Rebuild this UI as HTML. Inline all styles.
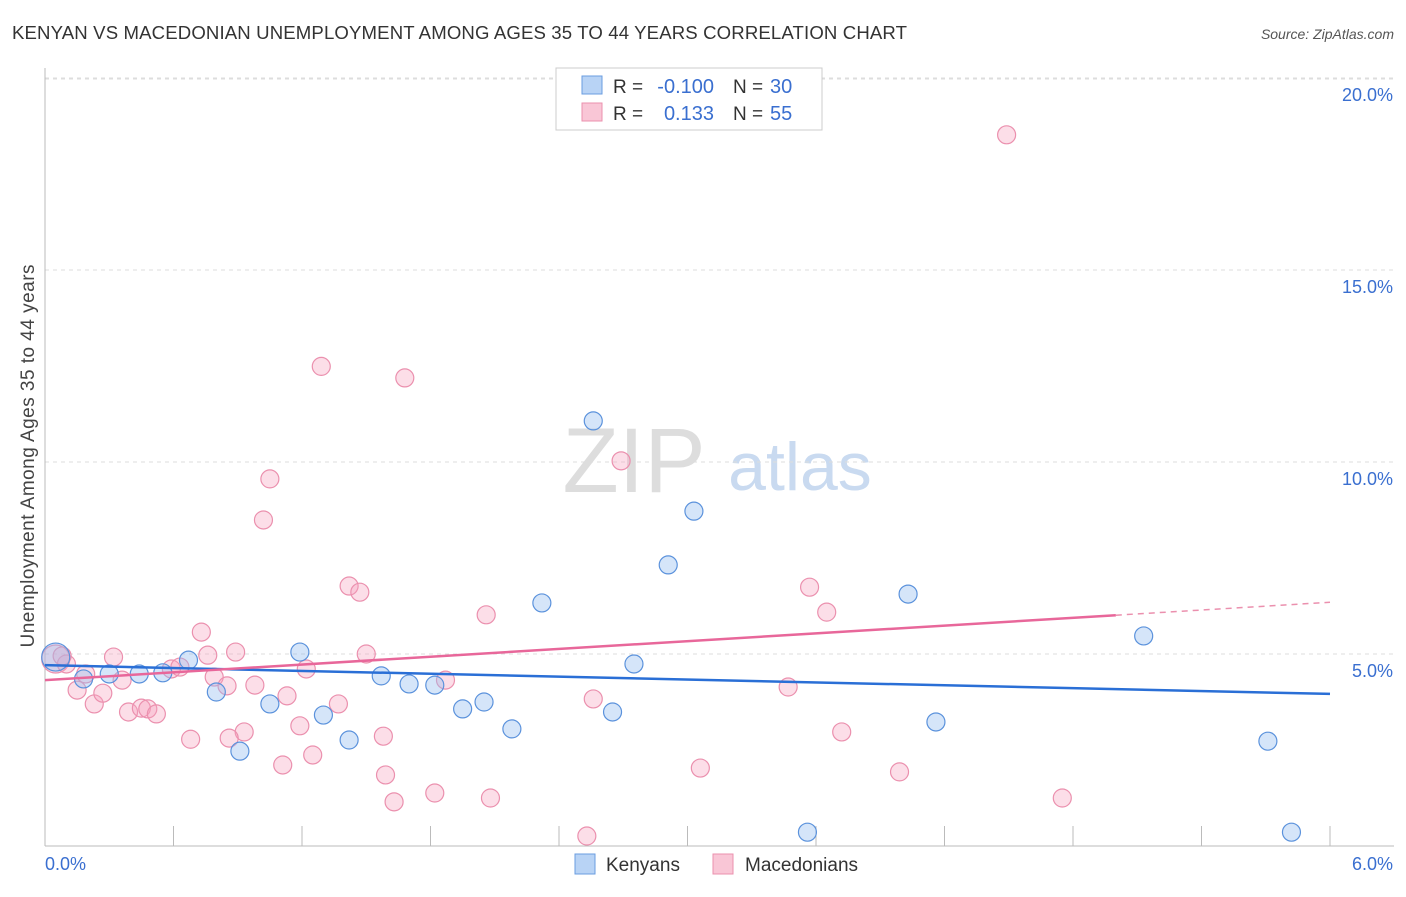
<!DOCTYPE html>
<html><head><meta charset="utf-8"><style>
body{margin:0;background:#fff;font-family:"Liberation Sans",sans-serif}
svg text{font-family:"Liberation Sans",sans-serif}
</style></head><body>
<svg id="c" width="1406" height="892">
<text x="12" y="39" font-size="18.6" fill="#333" textLength="895">KENYAN VS MACEDONIAN UNEMPLOYMENT AMONG AGES 35 TO 44 YEARS CORRELATION CHART</text>
<text x="1394" y="39" font-size="14" fill="#555" font-style="italic" text-anchor="end">Source: ZipAtlas.com</text>
<text x="0" y="0" font-size="19" fill="#444" transform="translate(34,456) rotate(-90)" text-anchor="middle" textLength="383">Unemployment Among Ages 35 to 44 years</text>
<text x="634" y="492" font-size="92" fill="#ddd" font-family="Liberation Serif" text-anchor="middle">ZIP</text>
<text x="800" y="490" font-size="68" fill="#c9daf0" text-anchor="middle">atlas</text>
<g id="grid"></g><g id="marks"></g>
<g>
<rect x="556" y="68" width="266" height="62" fill="#fff" stroke="#ccc"/>
<rect x="582" y="76" width="20" height="18" fill="#b8d3f5" stroke="#6a9de0"/>
<rect x="582" y="103" width="20" height="18" fill="#f9c6d6" stroke="#eb90ae"/>
<text x="613" y="93" font-size="19" fill="#333">R =</text>
<text x="714" y="93" font-size="20" fill="#3a6fd0" text-anchor="end">-0.100</text>
<text x="733" y="93" font-size="19" fill="#333">N =</text>
<text x="770" y="93" font-size="20" fill="#3a6fd0">30</text>
<text x="613" y="120" font-size="19" fill="#333">R =</text>
<text x="714" y="120" font-size="20" fill="#3a6fd0" text-anchor="end">0.133</text>
<text x="733" y="120" font-size="19" fill="#333">N =</text>
<text x="770" y="120" font-size="20" fill="#3a6fd0">55</text>
</g>
<g>
<rect x="575" y="854" width="20" height="20" fill="#b8d3f5" stroke="#6a9de0"/>
<text x="606" y="871" font-size="19" fill="#333">Kenyans</text>
<rect x="713" y="854" width="20" height="20" fill="#f9c6d6" stroke="#eb90ae"/>
<text x="745" y="871" font-size="19" fill="#333">Macedonians</text>
</g>
</svg>
<script>
const xTicks=[0,0.6,1.2,1.8,2.4,3.0,3.6,4.2,4.8,5.4,6.0];
const yTicks=[5,10,15,20];
const yTickLabels=["5.0%","10.0%","15.0%","20.0%"];
const kenX=[0.05,0.18,0.30,0.44,0.55,0.67,0.80,0.91,1.05,1.19,1.30,1.42,1.57,1.70,1.82,1.95,2.05,2.18,2.32,2.56,2.65,2.75,2.91,3.03,3.56,4.03,4.16,5.13,5.71,5.82];
const kenY=[4.92,4.35,4.48,4.48,4.51,4.84,4.01,2.47,3.70,5.05,3.41,2.76,4.43,4.22,4.19,3.57,3.75,3.05,6.33,11.07,3.49,4.74,7.32,8.72,0.36,6.56,3.23,5.47,2.73,0.36];
const kenR=[14,9,9,9,9,9,9,9,9,9,9,9,9,9,9,9,9,9,9,9,9,9,9,9,9,9,9,9,9,9];
const macX=[0.05,0.10,0.15,0.19,0.23,0.27,0.32,0.36,0.39,0.45,0.48,0.52,0.59,0.63,0.68,0.73,0.76,0.79,0.85,0.89,0.93,0.98,1.02,1.05,1.11,1.13,1.19,1.22,1.25,1.29,1.37,1.42,1.47,1.50,1.59,1.63,1.68,1.82,1.87,2.06,2.08,2.53,2.56,2.69,3.06,3.47,3.57,3.65,3.72,3.99,4.49,4.75,0.08,0.86,1.58];
const macY=[4.87,4.74,4.06,4.48,3.70,3.98,4.92,4.32,3.49,3.59,3.57,3.44,4.61,4.66,2.78,5.57,4.97,4.40,4.17,5.05,2.97,4.19,8.49,9.56,2.11,3.91,3.13,4.61,2.37,12.49,3.70,6.77,6.61,5.00,1.85,1.15,12.19,1.38,4.32,6.02,1.25,0.26,3.83,10.03,2.03,4.14,6.74,6.09,2.97,1.93,18.52,1.25,4.95,2.81,2.86];
const lineIntercept=[4.71,4.32];
const lineSlope=[-0.125,0.338];
const X=v=>45+v/6*1285, Y=v=>846-v*38.4;
const NS="http://www.w3.org/2000/svg";
function mk(t,a,p){const e=document.createElementNS(NS,t);for(const k in a)e.setAttribute(k,a[k]);p.appendChild(e);return e;}
const gridG=document.getElementById('grid'),marksG=document.getElementById('marks');
yTicks.forEach((v,i)=>{
 const l=mk('line',{x1:45,x2:1394,y1:Y(v),y2:Y(v),stroke:'#ddd','stroke-dasharray':'4,4'},gridG);
 
 
 const t=mk('text',{x:1393,y:Y(v)+23,'font-size':18,fill:'#3a6fd0','text-anchor':'end'},gridG);t.textContent=yTickLabels[i];
 
 
});
const topGrid=mk('line',{x1:45,x2:1394,y1:79,y2:79,stroke:'#ddd','stroke-dasharray':'4,4'},gridG);


const ax=mk('line',{x1:45,x2:1394,y1:846,y2:846,stroke:'#bbb'},gridG);


const ay=mk('line',{x1:45,x2:45,y1:68,y2:846,stroke:'#bbb'},gridG);


xTicks.forEach((v,i)=>{if(i==0)return;const l=mk('line',{x1:X(v),x2:X(v),y1:826,y2:846,stroke:'#bbb'},gridG);
 
 });
const t0=mk('text',{x:45,y:870,'font-size':18,fill:'#3a6fd0'},gridG);t0.textContent='0.0%';


const t1=mk('text',{x:1393,y:870,'font-size':18,fill:'#3a6fd0','text-anchor':'end'},gridG);t1.textContent='6.0%';


macX.forEach((x,i)=>{const c=mk('circle',{cx:X(x),cy:Y(macY[i]),r:i==0?14:9,fill:'rgba(245,160,190,0.35)',stroke:'#eb90ae','stroke-width':1.2},marksG);
 
 });
kenX.forEach((x,i)=>{const c=mk('circle',{cx:X(x),cy:Y(kenY[i]),r:kenR[i],fill:'rgba(150,190,240,0.4)',stroke:'#5b92dc','stroke-width':1.2},marksG);
 
 });
const bl=mk('line',{x1:X(0),y1:Y(lineIntercept[0]),x2:X(6),y2:Y(lineIntercept[0]+6*lineSlope[0]),stroke:'#2a6fd6','stroke-width':2.5},marksG);


const pl=mk('line',{x1:X(0),y1:Y(lineIntercept[1]),x2:X(5),y2:Y(lineIntercept[1]+5*lineSlope[1]),stroke:'#e8679a','stroke-width':2.5},marksG);


const pd=mk('line',{x1:X(5),y1:Y(lineIntercept[1]+5*lineSlope[1]),x2:X(6),y2:Y(lineIntercept[1]+6*lineSlope[1]),stroke:'#eb90ae','stroke-width':1.5,'stroke-dasharray':'6,5'},marksG);


</script>
</body></html>
